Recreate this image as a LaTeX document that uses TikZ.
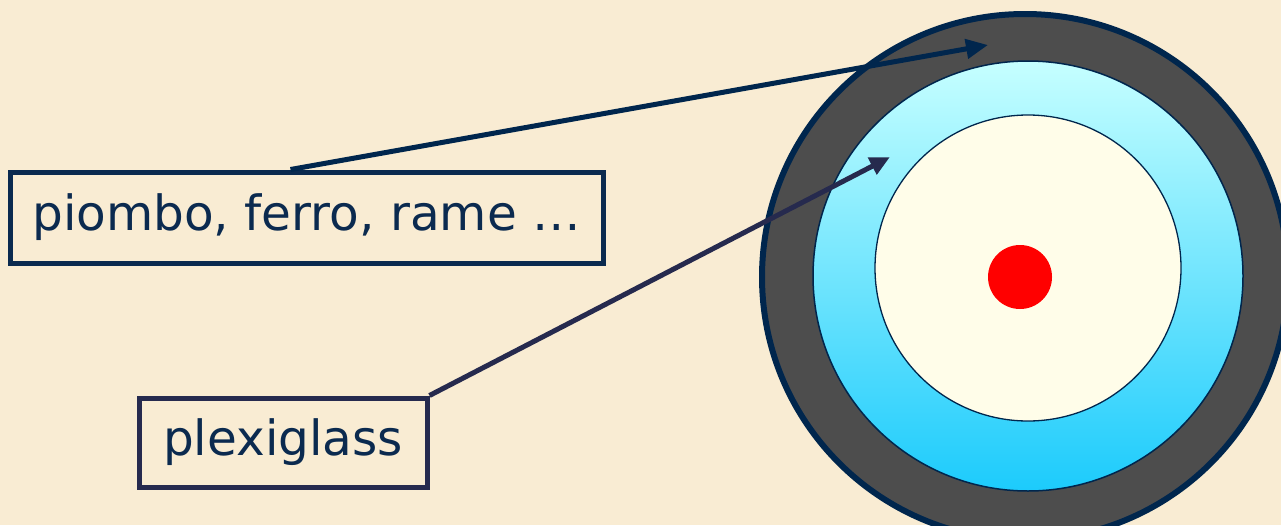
\documentclass[tikz,border=0pt]{standalone}
\usepackage{fontspec}
\setmainfont{DejaVu Sans}
\usetikzlibrary{arrows.meta}
\definecolor{bg}{HTML}{F9ECD3}
\definecolor{navy}{HTML}{00264D}
\definecolor{lead}{HTML}{4D4D4D}
\definecolor{bluetop}{HTML}{C6FFFF}
\definecolor{bluebot}{HTML}{1CCBFC}
\definecolor{cream}{HTML}{FFFDE9}
\definecolor{dotred}{HTML}{FF0000}
\definecolor{ink}{HTML}{0B2A4F}
\definecolor{ink2}{HTML}{262A4E}
\begin{document}
\begin{tikzpicture}[x=1pt,y=-1pt,
  labelbox/.style={draw=ink, line width=5pt, text=ink, inner sep=0pt,
    font=\fontsize{48.5}{54}\selectfont},
  arrowone/.style={draw=navy, line width=5pt, -{Triangle[length=22pt,width=19pt]}},
  arrowtwo/.style={draw=ink2, line width=5pt, -{Triangle[length=20pt,width=18pt]}}]
\useasboundingbox (0,0) rectangle (1281,525);
\fill[bg] (0,0) rectangle (1281,525);
\begin{scope}
\clip (0,0) rectangle (1281,525);
\node[circle, draw=navy, line width=6pt, fill=lead, minimum size=526pt, inner sep=0pt] (outer) at (1025,277) {};
\node[circle, draw=navy, line width=1.5pt, top color=bluetop, bottom color=bluebot, minimum size=430pt, inner sep=0pt] (plexi) at (1028,276) {};
\node[circle, draw=navy, line width=1.3pt, fill=cream, minimum size=306pt, inner sep=0pt] (core) at (1028,268) {};
\node[circle, fill=dotred, minimum size=64pt, inner sep=0pt] (dot) at (1020,277) {};
\end{scope}
\node[labelbox, minimum width=593pt, minimum height=91pt] (b1) at (306.5,217.5) {piombo, ferro, rame …};
\node[labelbox, draw=ink2, minimum width=288pt, minimum height=89pt] (b2) at (283,442.5) {plexiglass};
\coordinate (t1) at (988,45);
\coordinate (t2) at (890,157);
\draw[arrowone] ([xshift=-16pt]b1.north) -- (t1);
\draw[arrowtwo] (b2.north east) -- (t2);
\end{tikzpicture}
\end{document}
